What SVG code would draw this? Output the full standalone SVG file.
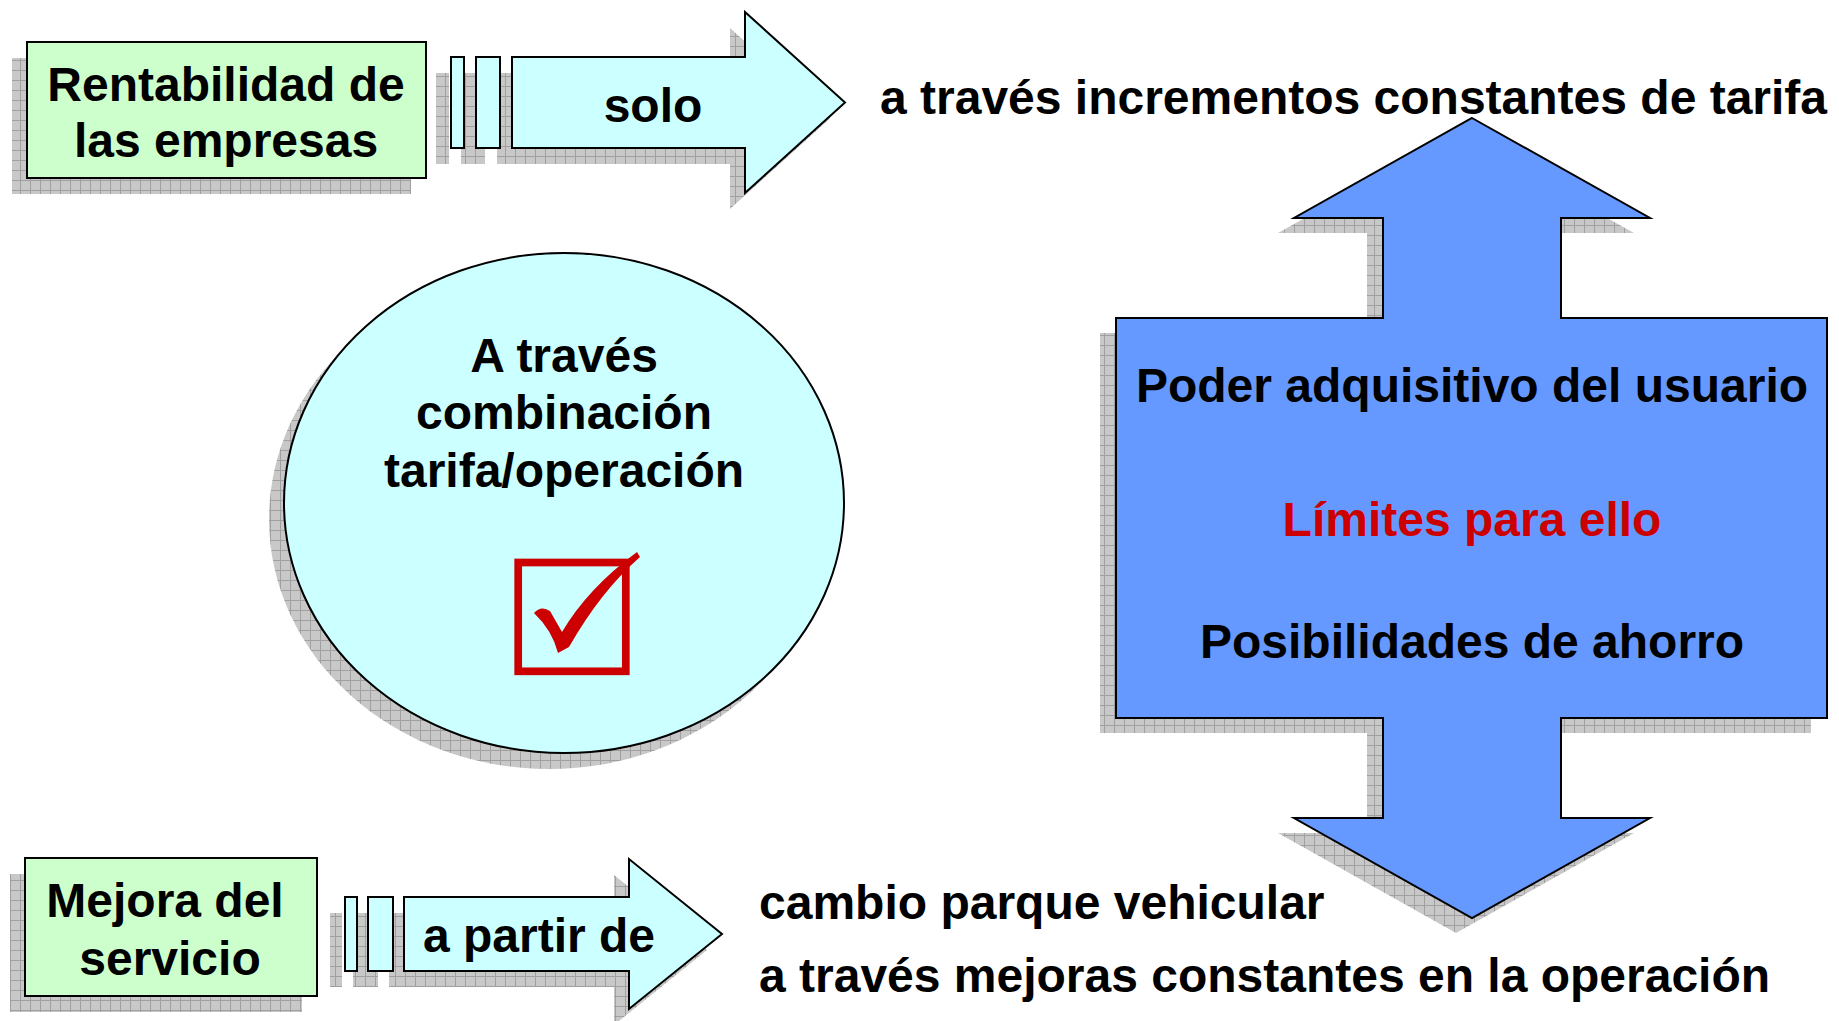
<svg xmlns="http://www.w3.org/2000/svg" width="1839" height="1021" viewBox="0 0 1839 1021">
<defs>
<pattern id="shade" width="10" height="10" patternUnits="userSpaceOnUse">
<rect width="10" height="10" fill="#C8C8C8"/>
<path d="M0 0.5H10M0.5 0V10" stroke="#A0A0A0" stroke-width="1"/>
</pattern>
<style>
.t{font-family:"Liberation Sans",Arial,sans-serif;font-weight:bold;font-size:48px;fill:#000}
.c{text-anchor:middle}
.red{fill:#CC0000}
.sh{fill:url(#shade);stroke:none}
.ln{stroke:#000;stroke-width:2}
.green{fill:#CCFFCC}
.cyan{fill:#CCFFFF}
.blue{fill:#6699FF}
</style>
</defs>
<rect width="1839" height="1021" fill="#FFFFFF"/>

<g id="node-rentabilidad">
<rect class="sh" x="12" y="58" width="399" height="136"/>
<rect class="green ln" x="27" y="42" width="399" height="136"/>
<text class="t c" x="226" y="101">Rentabilidad de</text>
<text class="t c" x="226" y="157">las empresas</text>
</g>

<g id="node-mejora">
<rect class="sh" x="10" y="874" width="292" height="138"/>
<rect class="green ln" x="25" y="858" width="292" height="138"/>
<text class="t c" x="165" y="917">Mejora del</text>
<text class="t c" x="170" y="975">servicio</text>
</g>

<g id="node-combinacion">
<ellipse class="sh" cx="549" cy="519" rx="280" ry="250"/>
<ellipse class="cyan ln" cx="564" cy="503" rx="280" ry="250"/>
<text class="t c" x="564" y="372">A través</text>
<text class="t c" x="564" y="429">combinación</text>
<text class="t c" x="564" y="487">tarifa/operación</text>
<rect x="518.2" y="562.5" width="107.6" height="108.8" fill="none" stroke="#CC0000" stroke-width="7.7"/>
<path d="M534,613 Q541,605 550,611 L562,632 Q588,588 637,552 L640,557 Q601,591 569,647 L558,653 Q552,630 534,613 Z" fill="#CC0000"/>
</g>

<g id="node-poder">
<path class="sh" transform="translate(-16,15)" d="M1472,118 L1650,218 L1561,218 L1561,318 L1827,318 L1827,718 L1561,718 L1561,818 L1650,818 L1472,918 L1294,818 L1383,818 L1383,718 L1116,718 L1116,318 L1383,318 L1383,218 L1294,218 Z"/>
<path class="blue ln" d="M1472,118 L1650,218 L1561,218 L1561,318 L1827,318 L1827,718 L1561,718 L1561,818 L1650,818 L1472,918 L1294,818 L1383,818 L1383,718 L1116,718 L1116,318 L1383,318 L1383,218 L1294,218 Z"/>
<text class="t c" x="1472" y="402">Poder adquisitivo del usuario</text>
<text class="t c red" x="1472" y="536">Límites para ello</text>
<text class="t c" x="1472" y="658">Posibilidades de ahorro</text>
</g>

<g id="node-tarifa-text">
<text class="t" x="880" y="114">a través incrementos constantes de tarifa</text>
</g>

<g id="node-operacion-text">
<text class="t" x="759" y="919">cambio parque vehicular</text>
<text class="t" x="759" y="992">a través mejoras constantes en la operación</text>
</g>

<g id="connectors">
<g id="arrow-solo">
<g transform="translate(-15,16)">
<rect class="sh" x="451" y="57" width="13" height="91"/>
<rect class="sh" x="476" y="57" width="24" height="91"/>
<polygon class="sh" points="512,57 745,57 745,12 845,102.5 745,193 745,148 512,148"/>
</g>
<rect class="cyan ln" x="451" y="57" width="13" height="91"/>
<rect class="cyan ln" x="476" y="57" width="24" height="91"/>
<polygon class="cyan ln" points="512,57 745,57 745,12 845,102.5 745,193 745,148 512,148"/>
<text class="t c" x="653" y="122">solo</text>
</g>
<g id="arrow-apartir">
<g transform="translate(-15,16)">
<rect class="sh" x="345" y="897" width="12" height="74"/>
<rect class="sh" x="368" y="897" width="25" height="74"/>
<polygon class="sh" points="404,897 629,897 629,859 722,934 629,1009 629,971 404,971"/>
</g>
<rect class="cyan ln" x="345" y="897" width="12" height="74"/>
<rect class="cyan ln" x="368" y="897" width="25" height="74"/>
<polygon class="cyan ln" points="404,897 629,897 629,859 722,934 629,1009 629,971 404,971"/>
<text class="t c" x="539" y="952">a partir de</text>
</g>
</g>
</svg>
